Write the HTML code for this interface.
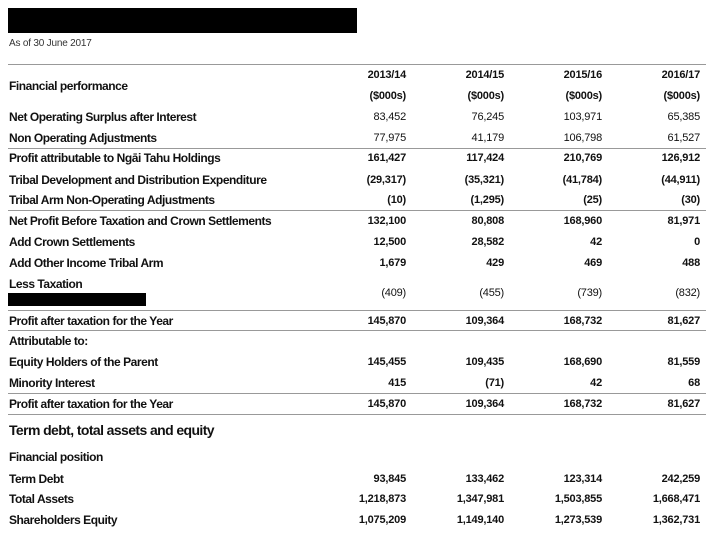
<!DOCTYPE html>
<html><head><meta charset="utf-8"><style>
body{margin:0;width:714px;height:540px;background:#fff;position:relative;overflow:hidden;font-family:"Liberation Sans",sans-serif;color:#111}
.l{position:absolute;left:9px;font-size:12px;font-weight:bold;letter-spacing:-0.45px;white-space:nowrap;line-height:14px}
.n{position:absolute;font-size:11px;font-weight:bold;letter-spacing:-0.2px;text-align:right;width:90px;line-height:14px}
.c1{left:316px}.c2{left:414px}.c3{left:512px}.c4{left:610px}
.hr{position:absolute;left:8px;width:698px;height:1px;background:#999}
</style></head><body>
<div style="position:absolute;left:8px;top:8px;width:349px;height:25px;background:#000"></div>
<div style="position:absolute;left:9px;top:38px;font-size:10px;color:#333;letter-spacing:-0.2px">As of 30 June 2017</div>
<div class="hr" style="top:64px"></div>
<div class="l" style="top:79px">Financial performance</div>
<div class="n c1" style="top:68px">2013/14</div><div class="n c2" style="top:68px">2014/15</div><div class="n c3" style="top:68px">2015/16</div><div class="n c4" style="top:68px">2016/17</div>
<div class="n c1" style="top:89px">($000s)</div><div class="n c2" style="top:89px">($000s)</div><div class="n c3" style="top:89px">($000s)</div><div class="n c4" style="top:89px">($000s)</div>

<div class="l" style="top:110px">Net Operating Surplus after Interest</div>
<div class="n c1" style="top:110px;font-weight:normal">83,452</div><div class="n c2" style="top:110px;font-weight:normal">76,245</div><div class="n c3" style="top:110px;font-weight:normal">103,971</div><div class="n c4" style="top:110px;font-weight:normal">65,385</div>
<div class="l" style="top:131px">Non Operating Adjustments</div>
<div class="n c1" style="top:131px;font-weight:normal">77,975</div><div class="n c2" style="top:131px;font-weight:normal">41,179</div><div class="n c3" style="top:131px;font-weight:normal">106,798</div><div class="n c4" style="top:131px;font-weight:normal">61,527</div>
<div class="hr" style="top:148px"></div>
<div class="l" style="top:151px">Profit attributable to Ngāi Tahu Holdings</div>
<div class="n c1" style="top:151px">161,427</div><div class="n c2" style="top:151px">117,424</div><div class="n c3" style="top:151px">210,769</div><div class="n c4" style="top:151px">126,912</div>
<div class="l" style="top:173px">Tribal Development and Distribution Expenditure</div>
<div class="n c1" style="top:173px">(29,317)</div><div class="n c2" style="top:173px">(35,321)</div><div class="n c3" style="top:173px">(41,784)</div><div class="n c4" style="top:173px">(44,911)</div>
<div class="l" style="top:193px">Tribal Arm Non-Operating Adjustments</div>
<div class="n c1" style="top:193px">(10)</div><div class="n c2" style="top:193px">(1,295)</div><div class="n c3" style="top:193px">(25)</div><div class="n c4" style="top:193px">(30)</div>
<div class="hr" style="top:210px"></div>
<div class="l" style="top:214px">Net Profit Before Taxation and Crown Settlements</div>
<div class="n c1" style="top:214px">132,100</div><div class="n c2" style="top:214px">80,808</div><div class="n c3" style="top:214px">168,960</div><div class="n c4" style="top:214px">81,971</div>
<div class="l" style="top:235px">Add Crown Settlements</div>
<div class="n c1" style="top:235px">12,500</div><div class="n c2" style="top:235px">28,582</div><div class="n c3" style="top:235px">42</div><div class="n c4" style="top:235px">0</div>
<div class="l" style="top:256px">Add Other Income Tribal Arm</div>
<div class="n c1" style="top:256px">1,679</div><div class="n c2" style="top:256px">429</div><div class="n c3" style="top:256px">469</div><div class="n c4" style="top:256px">488</div>
<div class="l" style="top:277px">Less Taxation</div>
<div style="position:absolute;left:8px;top:293px;width:138px;height:13px;background:#000"></div>
<div class="n c1" style="top:286px;font-weight:normal">(409)</div><div class="n c2" style="top:286px;font-weight:normal">(455)</div><div class="n c3" style="top:286px;font-weight:normal">(739)</div><div class="n c4" style="top:286px;font-weight:normal">(832)</div>
<div class="hr" style="top:310px"></div>
<div class="l" style="top:314px">Profit after taxation for the Year</div>
<div class="n c1" style="top:314px">145,870</div><div class="n c2" style="top:314px">109,364</div><div class="n c3" style="top:314px">168,732</div><div class="n c4" style="top:314px">81,627</div>
<div class="hr" style="top:330px"></div>
<div class="l" style="top:334px">Attributable to:</div>
<div class="l" style="top:355px">Equity Holders of the Parent</div>
<div class="n c1" style="top:355px">145,455</div><div class="n c2" style="top:355px">109,435</div><div class="n c3" style="top:355px">168,690</div><div class="n c4" style="top:355px">81,559</div>
<div class="l" style="top:376px">Minority Interest</div>
<div class="n c1" style="top:376px">415</div><div class="n c2" style="top:376px">(71)</div><div class="n c3" style="top:376px">42</div><div class="n c4" style="top:376px">68</div>
<div class="hr" style="top:393px"></div>
<div class="l" style="top:397px">Profit after taxation for the Year</div>
<div class="n c1" style="top:397px">145,870</div><div class="n c2" style="top:397px">109,364</div><div class="n c3" style="top:397px">168,732</div><div class="n c4" style="top:397px">81,627</div>
<div class="hr" style="top:414px"></div>
<div class="l" style="top:423px;font-size:14px;letter-spacing:-0.6px">Term debt, total assets and equity</div>
<div class="l" style="top:450px">Financial position</div>
<div class="l" style="top:472px">Term Debt</div>
<div class="n c1" style="top:472px">93,845</div><div class="n c2" style="top:472px">133,462</div><div class="n c3" style="top:472px">123,314</div><div class="n c4" style="top:472px">242,259</div>
<div class="l" style="top:492px">Total Assets</div>
<div class="n c1" style="top:492px">1,218,873</div><div class="n c2" style="top:492px">1,347,981</div><div class="n c3" style="top:492px">1,503,855</div><div class="n c4" style="top:492px">1,668,471</div>
<div class="l" style="top:513px">Shareholders Equity</div>
<div class="n c1" style="top:513px">1,075,209</div><div class="n c2" style="top:513px">1,149,140</div><div class="n c3" style="top:513px">1,273,539</div><div class="n c4" style="top:513px">1,362,731</div>
</body></html>
